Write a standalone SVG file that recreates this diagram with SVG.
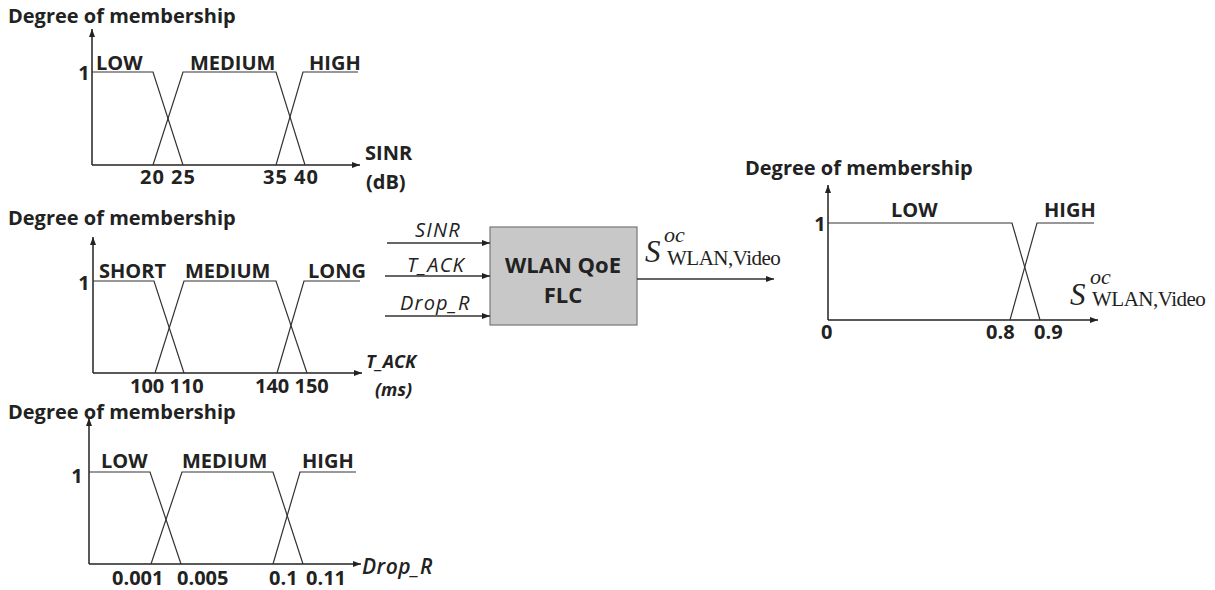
<svg xmlns="http://www.w3.org/2000/svg" width="1215" height="590" viewBox="0 0 1215 590">
<defs>
<marker id="arr" markerWidth="8" markerHeight="6" refX="8" refY="3" orient="auto" markerUnits="userSpaceOnUse">
<path d="M0,0 L8,3 L0,6 Z" fill="#222"/>
</marker>
<style>
.t{font-family:"Open Sans","Liberation Sans",sans-serif;font-weight:bold;fill:#222;font-size:20px}
.it{font-family:"Open Sans","Liberation Sans",sans-serif;font-style:italic;fill:#222;font-size:20px;letter-spacing:1.2px}
.bi{font-family:"Open Sans","Liberation Sans",sans-serif;font-style:italic;font-weight:bold;fill:#222;font-size:18px}
.ax{stroke:#222;stroke-width:1.5;fill:none;marker-end:url(#arr)}
.mf{stroke:#333;stroke-width:1.2;fill:none}
.conn{stroke:#333;stroke-width:1.5;fill:none;marker-end:url(#arr)}
.tm{font-family:"Liberation Serif",serif;fill:#222}
.S{font-size:31px;font-style:italic}
.sup{font-size:22px;font-style:italic}
.sub{font-size:21px;letter-spacing:-0.5px}
</style>
</defs>

<g id="chart-sinr">
<text class="t" x="8" y="23">Degree of membership</text>
<line class="ax" x1="92" y1="165" x2="92" y2="29"/>
<line class="ax" x1="92" y1="165" x2="360" y2="165"/>
<text class="t" x="84" y="80" text-anchor="middle">1</text>
<polyline class="mf" points="92,72 153,72 183,165"/>
<polyline class="mf" points="153,165 183,72 276,72 305,165"/>
<polyline class="mf" points="276,165 303,72 358,72"/>
<text class="t" x="96" y="70">LOW</text>
<text class="t" x="190" y="70">MEDIUM</text>
<text class="t" x="309" y="70">HIGH</text>
<text class="t" x="140" y="184" style="letter-spacing:1px">20 25</text>
<text class="t" x="263" y="184" style="letter-spacing:1px">35 40</text>
<text class="t" x="365" y="160">SINR</text>
<text class="t" x="366" y="189">(dB)</text>
</g>

<g id="chart-tack">
<text class="t" x="8" y="225">Degree of membership</text>
<line class="ax" x1="93" y1="373" x2="93" y2="237"/>
<line class="ax" x1="93" y1="373" x2="362" y2="373"/>
<text class="t" x="84" y="290" text-anchor="middle">1</text>
<polyline class="mf" points="93,281 154,281 184,373"/>
<polyline class="mf" points="155,373 184,281 276,281 307,373"/>
<polyline class="mf" points="277,373 304,281 360,281"/>
<text class="t" x="99" y="278">SHORT</text>
<text class="t" x="185" y="278">MEDIUM</text>
<text class="t" x="308" y="278">LONG</text>
<text class="t" x="130" y="393">100 110</text>
<text class="t" x="255" y="393">140 150</text>
<text class="bi" x="366" y="368">T_ACK</text>
<text class="bi" x="375" y="396">(ms)</text>
</g>

<g id="chart-dropr">
<text class="t" x="8" y="419">Degree of membership</text>
<line class="ax" x1="89" y1="564" x2="89" y2="418"/>
<line class="ax" x1="89" y1="564" x2="361" y2="564"/>
<text class="t" x="77" y="483" text-anchor="middle">1</text>
<polyline class="mf" points="89,472 150,472 181,564"/>
<polyline class="mf" points="151,564 182,472 273,472 303,564"/>
<polyline class="mf" points="273,564 300,472 356,472"/>
<text class="t" x="101" y="468">LOW</text>
<text class="t" x="182" y="468">MEDIUM</text>
<text class="t" x="302" y="468">HIGH</text>
<text class="t" x="112" y="585">0.001</text>
<text class="t" x="177" y="585">0.005</text>
<text class="t" x="269" y="585">0.1</text>
<text class="t" x="306" y="585">0.11</text>
<text class="it" x="362" y="574" style="font-weight:600;font-size:21px;letter-spacing:0.5px">Drop_R</text>
</g>

<g id="flc">
<rect x="490" y="227" width="147" height="98" fill="#c8c8c8" stroke="#777" stroke-width="1.2"/>
<text class="t" x="563" y="273" text-anchor="middle" style="font-size:22px">WLAN QoE</text>
<text class="t" x="563" y="303" text-anchor="middle" style="font-size:22px">FLC</text>
</g>

<g id="connectors">
<line class="conn" x1="387" y1="243" x2="490" y2="243"/>
<line class="conn" x1="385" y1="276" x2="490" y2="276"/>
<line class="conn" x1="385" y1="316" x2="490" y2="316"/>
<line class="conn" x1="637" y1="279" x2="774" y2="279"/>
</g>

<g id="input-labels">
<text class="it" x="415" y="237">SINR</text>
<text class="it" x="407" y="272">T_ACK</text>
<text class="it" x="400" y="310">Drop_R</text>
</g>

<g id="output-label">
<text class="tm S" x="645" y="262">S</text>
<text class="tm sup" x="664" y="242">oc</text>
<text class="tm sub" x="667" y="265">WLAN,Video</text>
</g>

<g id="chart-output">
<text class="t" x="745" y="175">Degree of membership</text>
<line class="ax" x1="828" y1="320" x2="828" y2="185"/>
<line class="ax" x1="828" y1="320" x2="1098" y2="320"/>
<text class="t" x="820" y="231" text-anchor="middle">1</text>
<polyline class="mf" points="828,223 1012,223 1040,320"/>
<polyline class="mf" points="1010,320 1037,223 1094,223"/>
<text class="t" x="891" y="217">LOW</text>
<text class="t" x="1044" y="217">HIGH</text>
<text class="t" x="821" y="339">0</text>
<text class="t" x="986" y="339">0.8</text>
<text class="t" x="1034" y="339">0.9</text>
<text class="tm S" x="1070" y="305">S</text>
<text class="tm sup" x="1090" y="284">oc</text>
<text class="tm sub" x="1092" y="306">WLAN,Video</text>
</g>
</svg>
